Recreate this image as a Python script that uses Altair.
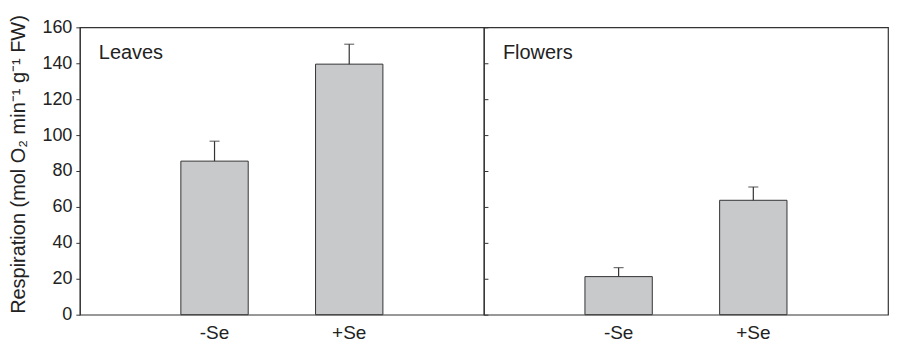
import altair as alt
import pandas as pd

treatments = ["-Se", "+Se"]
panels = ["Leaves", "Flowers"]
leaves_mean = [85.5, 139.5]
leaves_err = [11.1, 11.1]
flowers_mean = [21.2, 63.7]
flowers_err = [5.0, 7.4]
y_ticks = [0, 20, 40, 60, 80, 100, 120, 140, 160]

FONT = "Liberation Sans"
INK = "#222222"
LINE = "#333333"
PANEL_W = 405


def make_panel(name, means, errs, first):
    df = pd.DataFrame({
        "treatment": treatments,
        "mean": means,
        "upper": [m + e for m, e in zip(means, errs)],
    })
    x = alt.X(
        "treatment:N", sort=treatments,
        scale=alt.Scale(paddingInner=0.5, paddingOuter=0.75),
        axis=alt.Axis(title=None, labelAngle=0, ticks=False, domain=False,
                      labelPadding=9, labelFontSize=19, labelColor=INK,
                      labelFont=FONT),
    )
    yscale = alt.Scale(domain=[0, 160], nice=False)
    if first:
        yaxis = alt.Axis(
            title="Respiration  (mol O\u2082 min\u207b\u00b9 g\u207b\u00b9 FW)",
            values=y_ticks, tickSize=4, labelPadding=4, labelFontSize=18,
            labelColor=INK, labelFont=FONT, titleFont=FONT, titleFontSize=20,
            titleFontWeight="normal", titleColor=INK, titlePadding=13,
            titleY=137, domainColor=LINE, tickColor=LINE, grid=False,
        )
        capaxis = alt.Axis(orient="right", labels=False, title=None,
                           domain=False, tickSize=4, values=y_ticks,
                           tickColor=LINE, grid=False)
    else:
        yaxis = None
        capaxis = None
    base = alt.Chart(df)
    bars = base.mark_bar(fill="#c8c9cb", stroke=LINE, strokeWidth=1).encode(
        x=x, y=alt.Y("mean:Q", scale=yscale, axis=yaxis)
    )
    err = base.mark_rule(color=LINE, strokeWidth=1.2).encode(
        x=x, y=alt.Y("mean:Q", scale=yscale, axis=None), y2="upper:Q"
    )
    cap = base.mark_tick(size=10, thickness=1.2, color=LINE).encode(
        x=x, y=alt.Y("upper:Q", scale=yscale, axis=capaxis)
    )
    label = alt.Chart(pd.DataFrame({"panel": [name]})).mark_text(
        align="left", baseline="alphabetic", fontSize=20, font=FONT, color=INK
    ).encode(text="panel:N", x=alt.value(19), y=alt.value(32))
    layer = alt.layer(bars, err, cap, label).properties(width=PANEL_W, height=288)
    if first:
        layer = layer.resolve_axis(y="independent")
    return layer


left = make_panel(panels[0], leaves_mean, leaves_err, True)
right = make_panel(panels[1], flowers_mean, flowers_err, False)

chart = alt.hconcat(left, right, spacing=0, bounds="flush").properties(
    padding={"left": 0, "top": 2, "right": 0, "bottom": 0},
    background="white",
).configure_view(stroke=LINE, strokeWidth=1.2)

chart.save("out.html", embed_options={"renderer": "svg", "actions": False})
